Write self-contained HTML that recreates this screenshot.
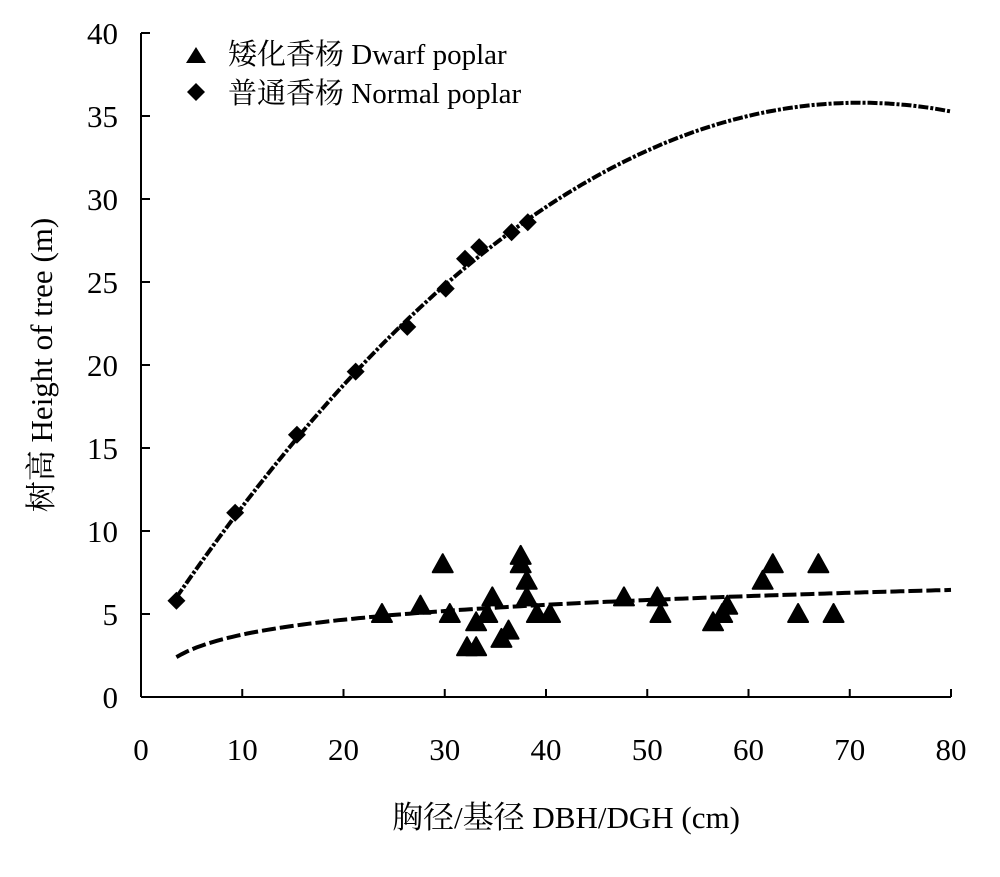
<!DOCTYPE html>
<html><head><meta charset="utf-8"><style>
body{margin:0;background:#fff}
svg text{font-family:"Liberation Serif","Noto Serif CJK SC","Noto Sans CJK SC",serif;fill:#000}
</style></head><body>
<svg id="chart" width="1000" height="872" xmlns="http://www.w3.org/2000/svg">
<g id="axes"></g>
<g id="curves"></g>
<g id="marks"></g>
<g>
<polygon points="196,47 186,63 206,63" fill="#000"/>
<text x="228" y="64" font-size="29">矮化香杨 Dwarf poplar</text>
<polygon points="196,83 205,92 196,101 187,92" fill="#000"/>
<text x="228" y="103" font-size="29">普通香杨 Normal poplar</text>
</g>
<text transform="translate(52,365) rotate(-90)" text-anchor="middle" font-size="31">树高 Height of tree (m)</text>
<text x="566" y="828" text-anchor="middle" font-size="31">胸径/基径 DBH/DGH (cm)</text>
</svg>
<script>
const xTicks=[0,10,20,30,40,50,60,70,80];
const yTicks=[0,5,10,15,20,25,30,35,40];
const dwarfX=[23.8,27.6,29.8,30.5,33.1,32.2,33.1,34.2,34.7,35.6,36.3,37.5,37.5,38.1,38.1,39.1,40.4,47.7,51,51.3,56.5,57.4,57.9,61.4,62.4,64.9,66.9,68.4];
const dwarfY=[5,5.5,8,5,4.5,3,3,5,6,3.5,4,8.5,8,7,6,5,5,6,6,5,4.5,5,5.5,7,8,5,8,5];
const normalX=[3.5,9.3,15.4,21.2,26.3,30.1,32,33.4,36.6,38.2];
const normalY=[5.8,11.1,15.8,19.6,22.3,24.6,26.4,27.1,28,28.6];
const normalFit=[-0.00654,0.9287,2.83]; // a x^2 + b x + c
const dwarfFit=[0.78,1.294]; // a + b ln x
const NS="http://www.w3.org/2000/svg";
const X=v=>141+v*10.125, Y=v=>697-v*16.6;
function mk(t,p,a){const e=document.createElementNS(NS,t);for(const k in a)e.setAttribute(k,a[k]);p.appendChild(e);return e;}
const axes=document.getElementById('axes');
let l=mk('line',axes,{x1:141,y1:Y(40),x2:141,y2:697,stroke:'#000','stroke-width':2});


l=mk('line',axes,{x1:141,y1:697,x2:X(80),y2:697,stroke:'#000','stroke-width':2});


xTicks.forEach(v=>{
 let t=mk('line',axes,{x1:X(v),x2:X(v),y1:697,y2:689,stroke:'#000','stroke-width':2});
 
 
 let s=mk('text',axes,{x:X(v),y:760,'text-anchor':'middle','font-size':31});s.textContent=v;
 
 
});
yTicks.forEach(v=>{
 let t=mk('line',axes,{x1:141,x2:150,y1:Y(v),y2:Y(v),stroke:'#000','stroke-width':2});
 
 
 let s=mk('text',axes,{x:118,y:Y(v)+11,'text-anchor':'end','font-size':31});s.textContent=v;
 
 
});
const curves=document.getElementById('curves');
let d1='',d2='';
for(let x=3.5;x<=80.001;x+=0.5){
 const yn=normalFit[0]*x*x+normalFit[1]*x+normalFit[2];
 const yd=dwarfFit[0]+dwarfFit[1]*Math.log(x);
 d1+=(d1?'L':'M')+X(x).toFixed(1)+','+Y(yn).toFixed(1);
 d2+=(d2?'L':'M')+X(x).toFixed(1)+','+Y(yd).toFixed(1);
}
let p=mk('path',curves,{d:d1,fill:'none',stroke:'#000','stroke-width':4,'stroke-dasharray':'10,2,3,2'});


p=mk('path',curves,{d:d2,fill:'none',stroke:'#000','stroke-width':4,'stroke-dasharray':'14,4'});


const marks=document.getElementById('marks');
dwarfX.forEach((x,i)=>{
 const cx=X(x),cy=Y(dwarfY[i]);
 const m=mk('polygon',marks,{points:`${cx},${cy-10} ${cx-10},${cy+8} ${cx+10},${cy+8}`,fill:'#000',stroke:'#000','stroke-width':2,'stroke-linejoin':'round'});
 
 
});
normalX.forEach((x,i)=>{
 const cx=X(x),cy=Y(normalY[i]);
 const m=mk('polygon',marks,{points:`${cx},${cy-9} ${cx+9},${cy} ${cx},${cy+9} ${cx-9},${cy}`,fill:'#000'});
 
 
});
</script>
</body></html>
